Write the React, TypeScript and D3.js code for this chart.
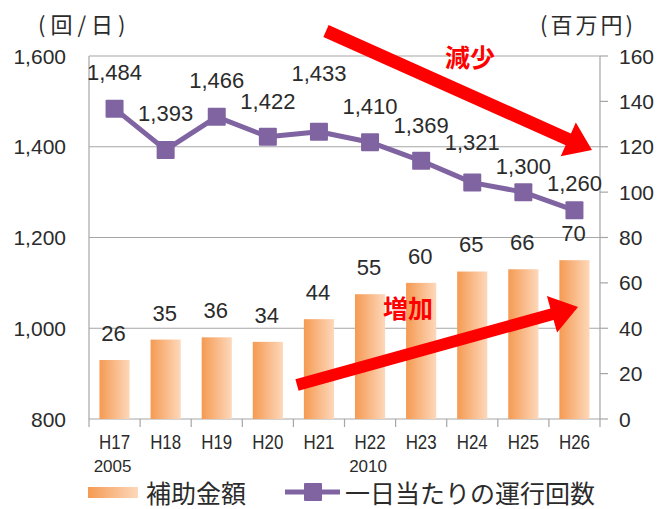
import React from "react";
import * as d3 from "d3";

const categories = ["H17", "H18", "H19", "H20", "H21", "H22", "H23", "H24", "H25", "H26"];
const yearNotes = [
  { category: "H17", text: "2005" },
  { category: "H22", text: "2010" },
];
const subsidy = [26, 35, 36, 34, 44, 55, 60, 65, 66, 70];
const dailyRuns = [1484, 1393, 1466, 1422, 1433, 1410, 1369, 1321, 1300, 1260];
const leftTicks = [800, 1000, 1200, 1400, 1600];
const rightTicks = [0, 20, 40, 60, 80, 100, 120, 140, 160];
const seriesNames = ["補助金額", "一日当たりの運行回数"];
const leftTitle = "(回/日)";
const rightTitle = "(百万円)";
const annotations = ["減少", "増加"];

// layout-only label nudges (pixels above the point)
const lineLabelDy = [-37, -37, -37, -36, -59, -36, -36, -41, -26, -27];

const W = 659;
const H = 509;
const M = { left: 89, right: 600, top: 56, bottom: 419 };

const PURPLE = "#8064A2";
const GRID = "#A6A6A6";
const TEXT = "#2b2b2b";
const RED = "#FF0000";
const FONT = "'Liberation Sans', Arial, sans-serif";
const CJK = "'Noto Sans CJK JP', sans-serif";

function arrowPath(x1: number, y1: number, x2: number, y2: number, bodyW: number, headL: number, headW: number) {
  const dx = x2 - x1;
  const dy = y2 - y1;
  const len = Math.hypot(dx, dy);
  const ux = dx / len;
  const uy = dy / len;
  const px = -uy;
  const py = ux;
  const bx = x2 - ux * headL;
  const by = y2 - uy * headL;
  const b = bodyW / 2;
  const h = headW / 2;
  const pts: [number, number][] = [
    [x1 + px * b, y1 + py * b],
    [bx + px * b, by + py * b],
    [bx + px * h, by + py * h],
    [x2, y2],
    [bx - px * h, by - py * h],
    [bx - px * b, by - py * b],
    [x1 - px * b, y1 - py * b],
  ];
  return "M" + pts.map((p) => p.join(",")).join("L") + "Z";
}

export default function App() {
  const x = d3
    .scaleBand<string>()
    .domain(categories)
    .range([M.left, M.right])
    .paddingInner(0.41)
    .paddingOuter(0.205);
  const step = x.step();
  const yL = d3.scaleLinear().domain([800, 1600]).range([M.bottom, M.top]);
  const yR = d3.scaleLinear().domain([0, 160]).range([M.bottom, M.top]);

  const cx = (c: string) => (x(c) as number) + x.bandwidth() / 2;

  const line = d3
    .line<number>()
    .x((_, i) => cx(categories[i]))
    .y((d) => yL(d));

  const boundaries = d3.range(categories.length + 1).map((i) => M.left + i * step);

  const mk = 18;

  return (
    <svg
      width={W}
      height={H}
      style={{ position: "absolute", left: 0, top: 0, background: "#fff" }}
      fontFamily={FONT}
    >
      <defs>
        <linearGradient id="barGrad" x1="0" x2="1" y1="0" y2="0">
          <stop offset="0%" stopColor="#F59A52" />
          <stop offset="100%" stopColor="#FDD8BB" />
        </linearGradient>
      </defs>

      {/* gridlines */}
      {leftTicks.slice(1).map((t) => (
        <line key={"g" + t} x1={M.left} x2={M.right} y1={yL(t)} y2={yL(t)} stroke={GRID} strokeWidth={1.2} />
      ))}
      {/* axes lines */}
      <line x1={M.left} x2={M.left} y1={M.top} y2={M.bottom} stroke={GRID} strokeWidth={1.2} />
      <line x1={M.right} x2={M.right} y1={M.top} y2={M.bottom} stroke={GRID} strokeWidth={1.2} />
      <line x1={M.left} x2={M.right} y1={M.bottom} y2={M.bottom} stroke={GRID} strokeWidth={1.2} />
      {rightTicks.map((t) => (
        <line key={"rt" + t} x1={M.right} x2={M.right + 8} y1={yR(t)} y2={yR(t)} stroke={GRID} strokeWidth={1.2} />
      ))}
      {boundaries.map((b, i) => (
        <line key={"bt" + i} x1={b} x2={b} y1={M.bottom} y2={M.bottom + 8} stroke={GRID} strokeWidth={1.2} />
      ))}

      {/* left tick labels */}
      {leftTicks.map((t) => (
        <text key={"lt" + t} x={66} y={yL(t)} dy="0.36em" textAnchor="end" fontSize={21} fill={TEXT}>
          {d3.format(",")(t)}
        </text>
      ))}
      {/* right tick labels */}
      {rightTicks.map((t) => (
        <text key={"rl" + t} x={619} y={yR(t)} dy="0.36em" textAnchor="start" fontSize={21} fill={TEXT}>
          {t}
        </text>
      ))}

      {/* axis titles */}
      <text x={38} y={33} fontFamily={CJK} fontSize={22} fill={TEXT} letterSpacing={5}>
        {leftTitle}
      </text>
      <text x={540} y={33} fontFamily={CJK} fontSize={22} fill={TEXT} letterSpacing={3}>
        {rightTitle}
      </text>

      {/* bars */}
      {subsidy.map((v, i) => (
        <rect
          key={"b" + i}
          x={x(categories[i])}
          y={yR(v)}
          width={x.bandwidth()}
          height={yR(0) - yR(v)}
          fill="url(#barGrad)"
        />
      ))}
      {subsidy.map((v, i) => (
        <text
          key={"bl" + i}
          x={cx(categories[i]) - 1}
          y={yR(v) - 27}
          dy="0.36em"
          textAnchor="middle"
          fontSize={22}
          fill={TEXT}
        >
          {v}
        </text>
      ))}

      {/* line */}
      <path d={line(dailyRuns) || ""} fill="none" stroke={PURPLE} strokeWidth={5} strokeLinejoin="round" />
      {dailyRuns.map((v, i) => (
        <rect
          key={"m" + i}
          x={cx(categories[i]) - mk / 2}
          y={yL(v) - mk / 2}
          width={mk}
          height={mk}
          fill={PURPLE}
          rx={1}
        />
      ))}
      {dailyRuns.map((v, i) => (
        <text
          key={"ll" + i}
          x={cx(categories[i])}
          y={yL(v) + lineLabelDy[i]}
          dy="0.36em"
          textAnchor="middle"
          fontSize={22}
          fill={TEXT}
        >
          {d3.format(",")(v)}
        </text>
      ))}

      {/* x labels */}
      {categories.map((c) => (
        <text
          key={"x" + c}
          x={cx(c)}
          y={442}
          dy="0.36em"
          textAnchor="middle"
          fontSize={20}
          textLength={31}
          lengthAdjust="spacingAndGlyphs"
          fill={TEXT}
        >
          {c}
        </text>
      ))}
      {yearNotes.map((n) => (
        <text key={"yn" + n.text} x={cx(n.category) - 2} y={466} dy="0.36em" textAnchor="middle" fontSize={17} fill={TEXT}>
          {n.text}
        </text>
      ))}

      {/* arrows */}
      <path d={arrowPath(326, 31, 592, 150, 13, 26, 37)} fill={RED} />
      <path d={arrowPath(297, 385, 578, 307, 12, 27, 38)} fill={RED} />
      <text x={470} y={58} dy="0.36em" textAnchor="middle" fontFamily={CJK} fontWeight="bold" fontSize={25} fill={RED}>
        {annotations[0]}
      </text>
      <text x={408} y={309} dy="0.36em" textAnchor="middle" fontFamily={CJK} fontWeight="bold" fontSize={25} fill={RED}>
        {annotations[1]}
      </text>

      {/* legend */}
      <rect x={88} y={487} width={50} height={11} fill="url(#barGrad)" />
      <text x={146} y={494} dy="0.36em" fontFamily={CJK} fontSize={25} fill={TEXT}>
        {seriesNames[0]}
      </text>
      <line x1={285} x2={340} y1={492} y2={492} stroke={PURPLE} strokeWidth={5} />
      <rect x={313 - 9} y={492 - 9} width={18} height={18} fill={PURPLE} rx={1} />
      <text x={345} y={494} dy="0.36em" fontFamily={CJK} fontSize={25} fill={TEXT}>
        {seriesNames[1]}
      </text>
    </svg>
  );
}
